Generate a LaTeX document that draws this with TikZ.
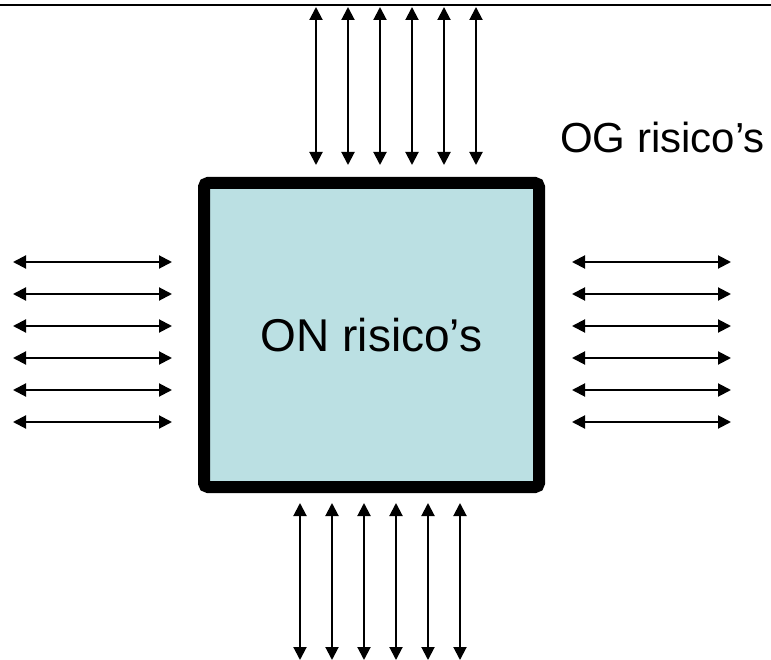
\documentclass[tikz,border=0pt]{standalone}
\usepackage{fontspec}
\setmainfont{Liberation Sans}
\usetikzlibrary{arrows.meta}
\definecolor{boxfill}{RGB}{187,224,227}
\begin{document}
\begin{tikzpicture}[x=1pt,y=-1pt,
  dblarrow/.style={line width=2pt,{Triangle[length=13pt,width=13pt]}-{Triangle[length=13pt,width=13pt]}},
  riskbox/.style={draw=black,line width=12pt,fill=boxfill,rounded corners=4pt,minimum width=335pt,minimum height=304pt,inner sep=0pt,font=\fontsize{46}{54}\selectfont},
  biglabel/.style={inner sep=0pt,font=\fontsize{42}{50}\selectfont}]
\useasboundingbox (0,0) rectangle (771,660);
% top border line
\coordinate (tl) at (0,5);
\coordinate (tr) at (771,5);
\draw[line width=2.5pt] (tl) -- (tr);
% central box
\node[riskbox] (on) at (371.5,335) {ON risico’s};
% outer label
\node[biglabel,anchor=base west] (og) at (560,153) {OG risico’s};
% top arrows
\foreach \x [count=\i] in {316,348,380,412,444,476} {
  \coordinate (ta\i) at (\x,7);
  \coordinate (tb\i) at (\x,165);
  \draw[dblarrow] (ta\i) -- (tb\i);
}
% bottom arrows
\foreach \x [count=\i] in {300,332,364,396,428,460} {
  \coordinate (ba\i) at (\x,503);
  \coordinate (bb\i) at (\x,660);
  \draw[dblarrow] (ba\i) -- (bb\i);
}
% left arrows
\foreach \y [count=\i] in {262,294,326,358,390,422} {
  \coordinate (la\i) at (13,\y);
  \coordinate (lb\i) at (172,\y);
  \draw[dblarrow] (la\i) -- (lb\i);
}
% right arrows
\foreach \y [count=\i] in {262,294,326,358,390,422} {
  \coordinate (ra\i) at (572,\y);
  \coordinate (rb\i) at (731,\y);
  \draw[dblarrow] (ra\i) -- (rb\i);
}
\end{tikzpicture}
\end{document}
